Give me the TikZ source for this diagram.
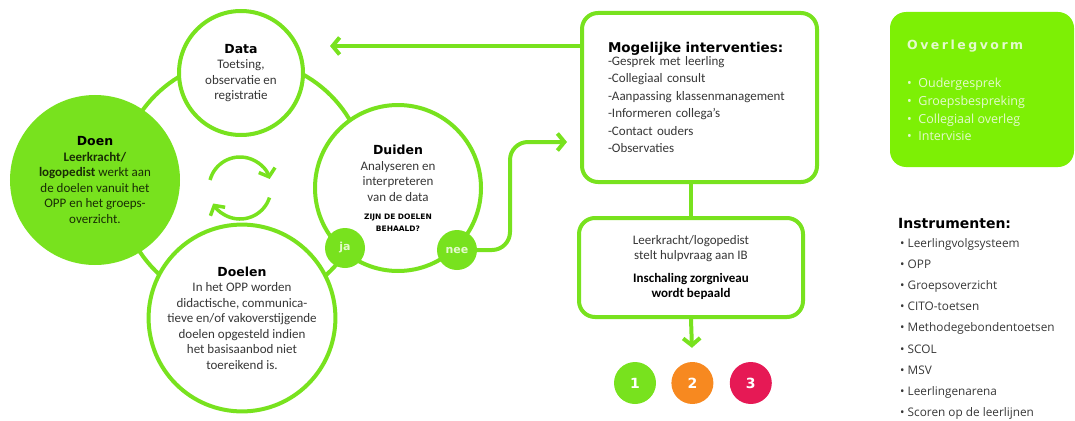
\documentclass[tikz,border=0pt]{standalone}
\usepackage{fontspec}
\setmainfont{Carlito}
\newfontfamily\headfont{DejaVu Sans}
\newfontfamily\listfont{Open Sans}
\usetikzlibrary{arrows.meta,positioning}

\definecolor{lime}{RGB}{120,226,30}
\definecolor{limebright}{RGB}{125,240,5}
\definecolor{paletext}{RGB}{228,250,205}
\definecolor{doentext}{RGB}{25,45,5}
\definecolor{bodytext}{RGB}{55,55,55}
\definecolor{levelorange}{RGB}{247,137,32}
\definecolor{levelred}{RGB}{230,25,85}

\tikzset{
  flow/.style={draw=lime, line width=4pt},
  barb/.style={-{Straight Barb[length=7pt,width=17pt]}},
  stage/.style={circle, draw=lime, line width=4pt, fill=white, align=center,
    text=bodytext, inner sep=2pt, font=\fontsize{13}{15.5}\selectfont},
  answer/.style={circle, fill=lime, minimum size=40pt, inner sep=0pt,
    text=paletext, font=\headfont\bfseries\fontsize{11}{11}\selectfont},
  infobox/.style={draw=lime, line width=4pt, fill=white, rounded corners=16pt},
  level/.style={circle, minimum size=42pt, inner sep=0pt, text=white,
    font=\headfont\bfseries\fontsize{14}{14}\selectfont},
}
\newcommand{\kop}[1]{{\headfont\bfseries\fontsize{12.5}{15.5}\selectfont\color{black}#1}}
\newcommand{\vraag}[1]{{\headfont\bfseries\fontsize{7.5}{12}\selectfont\color{black}#1}}

\begin{document}
\begin{tikzpicture}[x=1pt,y=-1pt]
        \useasboundingbox (0,0) rectangle (1075,420);

        %%%%%%%%%% Ring %%%%%%%%%%
        \draw[flow] (243,183) circle[radius=124];

        %%%%%%%%%% Cirkels %%%%%%%%%%
        \node[stage, minimum size=124pt] (data) at (241,73)
            {\kop{Data}\\Toetsing,\\observatie en\\registratie};
        \node[stage, fill=lime, minimum size=166pt, text=doentext] (doen) at (95,180)
            {\kop{Doen}\\\textbf{Leerkracht/}\\\textbf{logopedist} werkt aan\\de doelen vanuit het\\OPP en het groeps-\\overzicht.};
        \node[stage, minimum size=164pt] (doelen) at (242,318)
            {\kop{Doelen}\\In het OPP worden\\didactische, communica-\\tieve en/of vakoverstijgende\\doelen opgesteld indien\\het basisaanbod niet\\toereikend is.};
        \node[stage, minimum size=166pt] (duiden) at (398,188)
            {\kop{Duiden}\\Analyseren en\\interpreteren\\van de data\\[3pt]
             \vraag{ZIJN DE DOELEN}\\[-4pt]\vraag{BEHAALD?}};

        \node[answer] (ja) at (345,248) {ja};
        \node[answer] (nee) at (457,250) {nee};

        %%%%%%%%%% Kringloop %%%%%%%%%%
        \draw[flow, line width=3.5pt, barb] (240,188) ++(195:31) arc[start angle=195, end angle=343, radius=31];
        \draw[flow, line width=3.5pt, barb] (240,188) ++(18:31) arc[start angle=18, end angle=150, radius=31];

        %%%%%%%%%% Kaders %%%%%%%%%%
        \node[infobox, minimum width=235pt, minimum height=169pt, text width=183pt,
              align=left, text=bodytext, font=\fontsize{13}{17.5}\selectfont] (interv) at (699.5,97.5)
            {{\headfont\bfseries\fontsize{13.5}{12}\selectfont\color{black}Mogelijke interventies:}\\[-5pt]
             -Gesprek met leerling\\-Collegiaal consult\\-Aanpassing klassenmanagement\\
             -Informeren collega's\\-Contact ouders\\-Observaties};
        \node[infobox, minimum width=224pt, minimum height=99pt, align=center,
              text=bodytext, font=\fontsize{13}{15}\selectfont] (hulp) at (691,267.5)
            {Leerkracht/logopedist\\stelt hulpvraag aan IB\\[8pt]
             \textbf{\color{black}Inschaling zorgniveau}\\\textbf{\color{black}wordt bepaald}};

        %%%%%%%%%% Zorgniveaus %%%%%%%%%%
        \node[level, fill=lime] (een) at (635,383) {1};
        \node[level, fill=levelorange, right=15pt of een] (twee) {2};
        \node[level, fill=levelred, right=16pt of twee] (drie) {3};

        %%%%%%%%%% Pijlen %%%%%%%%%%
        \coordinate (datatip) at (330,46);
        \coordinate (bocht) at (510,142);
        \draw[flow, barb] (datatip -| interv.west) -- (datatip);
        \draw[flow, barb, rounded corners=18pt, shorten >=13pt]
            (nee.east) -| (bocht) -- (bocht -| interv.west);
        \draw[flow] (interv.south -| hulp.north) -- (hulp.north);
        \draw[flow, barb, shorten >=14pt] (hulp.south) -- (twee.north);

        %%%%%%%%%% Overlegvorm %%%%%%%%%%
        \node[fill=limebright, rounded corners=16pt, minimum width=184pt,
              minimum height=155pt] (overleg) at (982,89.5) {};
        \node[anchor=north west, inner sep=0pt, text=paletext,
              font=\headfont\bfseries\fontsize{12.5}{13}\selectfont\addfontfeature{LetterSpace=20}]
            (overtitel) at (907,40) {Overlegvorm};
        \node[anchor=north west, inner sep=0pt, align=left, text=paletext,
              font=\listfont\fontsize{12.5}{17.7}\selectfont] (overlijst) at (907,78)
            {\textbullet\ \ Oudergesprek\\\textbullet\ \ Groepsbespreking\\
             \textbullet\ \ Collegiaal overleg\\\textbullet\ \ Intervisie};

        %%%%%%%%%% Instrumenten %%%%%%%%%%
        \node[anchor=north west, inner sep=0pt,
              font=\headfont\bfseries\fontsize{14}{14}\selectfont] (instrtitel) at (898,218) {Instrumenten:};
        \node[anchor=north west, inner sep=0pt, align=left, text=bodytext,
              font=\listfont\fontsize{11.8}{21.2}\selectfont] (instrlijst) at (900,238)
            {\textbullet\ Leerlingvolgsysteem\\\textbullet\ OPP\\\textbullet\ Groepsoverzicht\\
             \textbullet\ CITO-toetsen\\\textbullet\ Methodegebondentoetsen\\\textbullet\ SCOL\\
             \textbullet\ MSV\\\textbullet\ Leerlingenarena\\\textbullet\ Scoren op de leerlijnen};
\end{tikzpicture}
\end{document}
